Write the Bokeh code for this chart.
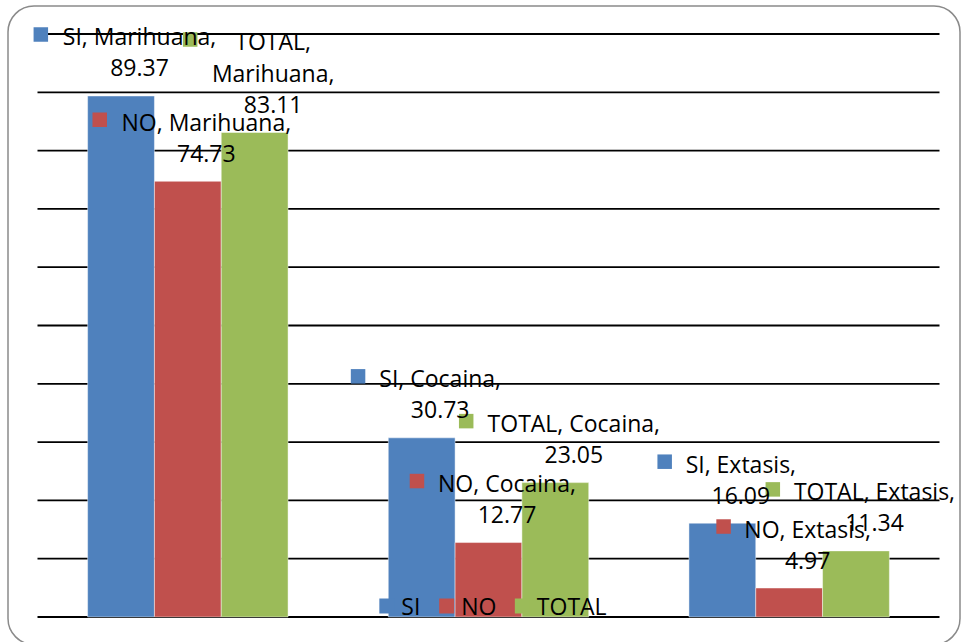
from bokeh.plotting import figure
from bokeh.models import Range1d
from bokeh.core.properties import value
from bokeh.embed import file_html
from bokeh.resources import INLINE

# ---------------- data ----------------
CATEGORIES = ["Marihuana", "Cocaina", "Extasis"]
SERIES = ["SI", "NO", "TOTAL"]
SI = [89.37, 30.73, 16.09]
NO = [74.73, 12.77, 4.97]
TOTAL = [83.11, 23.05, 11.34]
VALUES = {"SI": SI, "NO": NO, "TOTAL": TOTAL}
COLORS = {"SI": "#4F81BD", "NO": "#C0504D", "TOTAL": "#9BBB59"}
GRID_TICKS = list(range(0, 101, 10))

# ---------------- layout ----------------
W, H = 961, 642
X_LEFT_PX, X_RIGHT_PX = 37.0, 939.0      # canvas px of plot area left/right
Y_ZERO_PX, Y_TOP_PX = 616.5, 33.5        # canvas px (from top) of 0 and 100
SX = (X_RIGHT_PX - X_LEFT_PX) / len(CATEGORIES)
SY = (Y_ZERO_PX - Y_TOP_PX) / 100.0

FONT = "Open Sans"
FS = 23
FS_PX = f"{FS}px"
TEXT_DY = -8.0   # renderer baseline correction

# approximate advance widths (per 1000 em) used to lay out label keys
CW = {' ': 226, ',': 250, '.': 252, 'A': 579, 'C': 533, 'E': 488, 'I': 252,
      'L': 420, 'M': 855, 'N': 646, 'O': 662, 'S': 459, 'T': 487, 'a': 479,
      'c': 423, 'e': 498, 'h': 525, 'i': 229, 'n': 525, 'o': 527, 'r': 349,
      's': 391, 't': 335, 'u': 525, 'x': 433}
def text_w(s):
    return sum(CW.get(ch, 507) for ch in s) * 26.5 / 1000.0

def px_to_x(px):
    return (px - X_LEFT_PX) / SX

def px_to_y(py):
    return (Y_ZERO_PX - py) / SY

p = figure(width=W, height=H, output_backend="svg", toolbar_location=None,
           x_range=Range1d(px_to_x(0), px_to_x(W)),
           y_range=Range1d(px_to_y(H), px_to_y(0)),
           x_axis_type=None, y_axis_type=None, min_border=0)
p.grid.visible = False
p.outline_line_color = None
p.background_fill_color = "white"
p.border_fill_color = "white"

# chart-area border (rounded)
p.quad(left=px_to_x(7.5), right=px_to_x(959.5), top=px_to_y(5.5),
       bottom=px_to_y(644), fill_color=None, line_color="#8a8a8a",
       line_width=1.5, border_radius=26)

# gridlines
p.segment(x0=[0] * len(GRID_TICKS), x1=[len(CATEGORIES)] * len(GRID_TICKS),
          y0=GRID_TICKS, y1=GRID_TICKS, line_color="#000000", line_width=1.8)

# bars
bw = 1.0 / (len(SERIES) * 1.5)
bar_info = []
for si, s in enumerate(SERIES):
    xs = [ci + 0.5 + (si - 1) * bw for ci in range(len(CATEGORIES))]
    p.vbar(x=xs, top=VALUES[s], width=bw, bottom=0, fill_color=COLORS[s],
           line_color="#ffffff", line_alpha=0.45, line_width=1)
    for ci, c in enumerate(CATEGORIES):
        bar_info.append((s, c, xs[ci], VALUES[s][ci]))

# data labels (Excel-style: legend key + "series, category," + value)
LINE_SP = 31.5
KEY = 14.5
GAP = 13.5
key_x, key_y, key_c = [], [], []
tx, ty, tt = [], [], []
for s, c, xb, v in bar_info:
    head = f"{s}, {c},"
    lines = [head] if text_w(head) < 185 else [f"{s},", f"{c},"]
    lines.append(f"{v:.2f}")
    maxw = max(text_w(l) for l in lines)
    bx_px = X_LEFT_PX + xb * SX
    top_px = Y_ZERO_PX - v * SY
    block_w = KEY + GAP + maxw
    left_px = bx_px + 4.5 - block_w / 2
    tc_px = left_px + KEY + GAP + maxw / 2
    n = len(lines)
    for i, l in enumerate(lines):
        base_px = top_px - 20 - (n - 1 - i) * LINE_SP
        tx.append(px_to_x(tc_px)); ty.append(px_to_y(base_px + TEXT_DY)); tt.append(l)
    first_base = top_px - 20 - (n - 1) * LINE_SP
    key_x.append(px_to_x(left_px + KEY / 2))
    key_y.append(px_to_y(first_base - 10))
    key_c.append(COLORS[s])

p.scatter(x=key_x, y=key_y, marker="square", size=KEY, fill_color=key_c,
          line_color=None)
p.text(x=tx, y=ty, text=tt, text_align="center", text_baseline="alphabetic",
       text_font=value(FONT), text_font_size=FS_PX, text_color="black")

# legend (bottom, drawn over plot like the original)
LEG_KEY, LEG_STAND, LEG_SP = 15, 7, 19
total = sum(LEG_KEY + LEG_STAND + text_w(s) for s in SERIES) + LEG_SP * (len(SERIES) - 1)
cx = (X_LEFT_PX + X_RIGHT_PX) / 2 + 4.5
x_cur = cx - total / 2
lk_x, lk_c, lt_x = [], [], []
for s in SERIES:
    lk_x.append(px_to_x(x_cur + LEG_KEY / 2)); lk_c.append(COLORS[s])
    lt_x.append(px_to_x(x_cur + LEG_KEY + LEG_STAND))
    x_cur += LEG_KEY + LEG_STAND + text_w(s) + LEG_SP
p.scatter(x=lk_x, y=[px_to_y(605.5)] * len(SERIES), marker="square",
          size=LEG_KEY, fill_color=lk_c, line_color=None)
p.text(x=lt_x, y=[px_to_y(613 + TEXT_DY)] * len(SERIES), text=SERIES, text_align="left",
       text_baseline="alphabetic", text_font=value(FONT), text_font_size=FS_PX,
       text_color="black")

open("out.html", "w").write(file_html(p, INLINE))
